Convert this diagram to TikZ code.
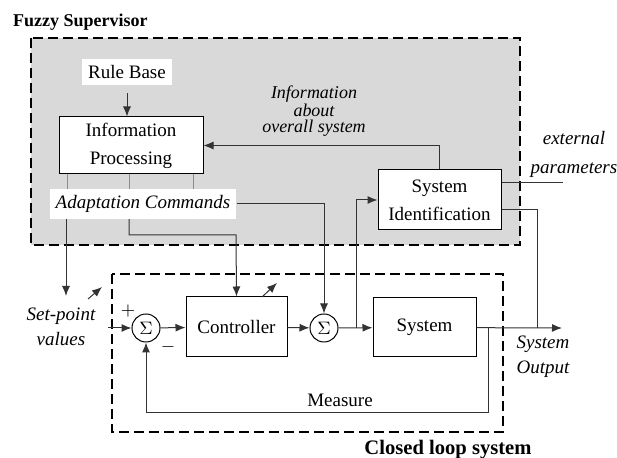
\documentclass[tikz,border=0pt]{standalone}
\usepackage{fontspec}
\setmainfont{LiberationSerif}[
    Extension=.ttf,
    UprightFont=*-Regular,
    BoldFont=*-Bold,
    ItalicFont=*-Italic,
    BoldItalicFont=*-BoldItalic]
\usepackage{tikz}
\usetikzlibrary{arrows.meta}
\definecolor{supgray}{HTML}{D9D9D9}
\definecolor{wirec}{HTML}{333333}

\begin{document}
\begin{tikzpicture}[
    x=0.5pt, y=-0.5pt,
    font=\rmfamily\fontsize{9.5}{11}\selectfont,
    block/.style={
        draw=black,
        fill=white,
        line width=0.5pt,
        align=center,
        inner sep=1pt
    },
    sumnode/.style={
        draw=black,
        fill=white,
        circle,
        line width=0.5pt,
        minimum size=14pt,
        inner sep=0pt
    },
    tag/.style={
        font=\rmfamily\fontsize{9.5}{12.5}\selectfont\itshape,
        align=center
    },
    title/.style={
        font=\rmfamily\fontsize{9}{11}\selectfont\bfseries
    },
    frame/.style={
        draw=black,
        line width=1pt,
        dash pattern=on 5pt off 2.5pt
    },
    flow/.style={
        draw=wirec,
        line width=0.5pt,
        -{Latex[length=5pt,width=4pt]}
    },
    wire/.style={
        draw=wirec,
        line width=0.5pt
    }
]
\useasboundingbox (0,0) rectangle (617,458);

% ============================================================
% Frames and their titles
% ============================================================

\path[frame, fill=supgray] (31,38) rectangle (520,245);
\path[frame] (112,274) rectangle (503,432);

\node[title, anchor=west] (suptitle) at (6,22) {Fuzzy Supervisor};
\node[title, font=\rmfamily\fontsize{10.3}{12}\selectfont\bfseries] (looptitle)
    at (448,450) {Closed loop system};

% ============================================================
% Fuzzy supervisor blocks
% ============================================================

\node[fill=white, inner sep=3pt] (rule) at (127,72) {Rule Base};

\node[block, minimum width=72pt, minimum height=28.5pt] (info) at (131,145.5)
    {Information\\[3pt]Processing};

\node[tag, fill=white, inner sep=3pt] (adapt) at (143,204)
    {Adaptation Commands};

\node[block, minimum width=61.5pt, minimum height=30pt] (sysid) at (439.5,200)
    {System\\[3pt]Identification};

\node[tag, font=\rmfamily\fontsize{9}{8}\selectfont\itshape, inner sep=0pt]
    (about) at (314,111) {Information\\about\\overall system};

\node[tag] (extpar) at (574,154) {external\\[2pt]parameters};

% ============================================================
% Closed loop blocks
% ============================================================

\node[sumnode] (sum1) at (146,328) {$\Sigma$};
\node[block, minimum width=50.5pt, minimum height=30pt] (ctrl) at (236.5,327)
    {Controller};
\node[sumnode] (sum2) at (324,328) {$\Sigma$};
\node[block, minimum width=51.5pt, minimum height=29.5pt] (sys) at (424.5,327.5)
    {System};

\node (plus) at (128,311) {$+$};
\node (minus) at (168,347) {$-$};

\node[tag] (setpt) at (61,327) {Set-point\\values};
\node[tag] (sysout) at (543,357) {System\\Output};
\node (measure) at (340,400) {Measure};

% ============================================================
% Free ends
% ============================================================

\coordinate (spin) at (108,328);
\coordinate (spdown) at (66,296);
\coordinate (jn) at (356,328);
\coordinate (tap) at (537,328);
\coordinate (fb) at (488,328);
\coordinate (fbl) at (146,413);
\coordinate (out) at (562,328);
\coordinate (ext) at (563,183);
\coordinate (cbend) at (236,235);

% ============================================================
% Supervisor connections
% ============================================================

\draw[flow] (rule.south) ++(0,8) -- (rule.south |- info.north);
\draw[flow] (sysid.north) |- (info.east);
\draw[flow] (jn) |- (sysid.west);
\draw[wire] ([yshift=8.5pt]sysid.east) -- (ext);
\draw[wire] ([yshift=-5pt]sysid.east) -| (tap);

\foreach \dx in {-32,-1,31}
    \draw[wire, draw=black!45] ([xshift=\dx pt]info.south)
        -- ([xshift=\dx pt]info.south |- adapt.north);

% ============================================================
% Adaptation commands
% ============================================================

\draw[flow] (adapt.east) -| (sum2.north);
\draw[flow] ([xshift=-7pt]adapt.south) |- (cbend) -- (ctrl.north);
\draw[flow] ([xshift=-38.5pt]adapt.south) -- (spdown);

\draw[flow] (88,299) -- (102,287);
\draw[flow] (262,297) -- (277,283);

% ============================================================
% Closed loop connections
% ============================================================

\draw[flow] (spin) -- (sum1.west);
\draw[flow] (sum1) -- (ctrl);
\draw[flow] (ctrl) -- (sum2);
\draw[flow] (sum2) -- (sys);
\draw[flow] (sys) -- (out);
\draw[flow] (fb) |- (fbl) -- (sum1.south);

\end{tikzpicture}
\end{document}
